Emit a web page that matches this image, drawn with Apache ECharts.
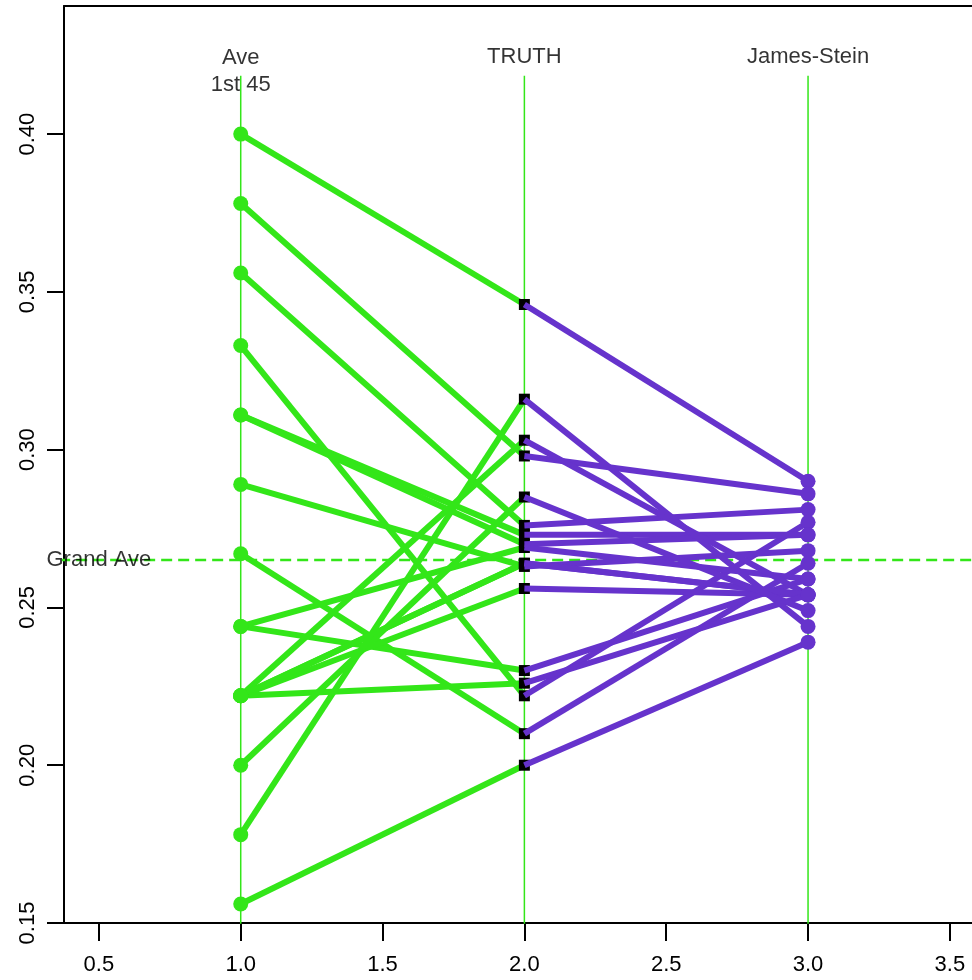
<!DOCTYPE html>
<html>
<head>
<meta charset="utf-8">
<script src="https://cdn.jsdelivr.net/npm/echarts@6/dist/echarts.min.js"></script>
<style>html,body{margin:0;padding:0;background:#fff;overflow:hidden}#c{width:972px;height:980px}</style>
</head>
<body>
<div id="c"></div>
<script>
// Efron-Morris batting averages
var first45 = [0.400,0.378,0.356,0.333,0.311,0.311,0.289,0.267,0.244,0.244,0.222,0.222,0.222,0.222,0.222,0.200,0.178,0.156];
var truth   = [0.346,0.298,0.276,0.222,0.273,0.270,0.263,0.210,0.269,0.230,0.264,0.256,0.303,0.264,0.226,0.285,0.316,0.200];
var jamesStein = [0.290,0.286,0.281,0.277,0.273,0.273,0.268,0.264,0.259,0.259,0.254,0.254,0.254,0.254,0.254,0.249,0.244,0.239];
var grandAve = 0.265;
var columnX = [1, 2, 3];
var columnLabels = ['Ave\n1st 45', 'TRUTH', 'James-Stein'];
var xTicks = [0.5, 1.0, 1.5, 2.0, 2.5, 3.0, 3.5];
var yTicks = [0.15, 0.20, 0.25, 0.30, 0.35, 0.40];

var GREEN = '#33e619';
var PURPLE = '#6633cc';
var FONT = 'Liberation Sans, Arial, sans-serif';

var series = [];
// vertical guide lines
columnX.forEach(function (x) {
  series.push({type:'line', data:[[x,0.14],[x,0.4185]], symbol:'none', silent:true,
    lineStyle:{color:GREEN, width:1.5}, z:1});
});
// grand average dashed line
series.push({type:'line', data:[[0.3,grandAve],[3.7,grandAve]], symbol:'none', silent:true,
  lineStyle:{color:GREEN, width:2.5, type:[11,6]}, z:1});
// green segments
for (var i = 0; i < first45.length; i++) {
  series.push({type:'line', data:[[1,first45[i]],[2,truth[i]]], symbol:'none',
    lineStyle:{color:GREEN, width:6}, z:2});
}
series.push({type:'scatter', data:first45.map(function(v){return [1,v];}), symbol:'circle', symbolSize:15,
  itemStyle:{color:GREEN, opacity:1}, z:3});
series.push({type:'scatter', data:truth.map(function(v){return [2,v];}), symbol:'rect', symbolSize:11,
  itemStyle:{color:'#000', opacity:1}, z:4});
for (var j = 0; j < truth.length; j++) {
  series.push({type:'line', data:[[2,truth[j]],[3,jamesStein[j]]], symbol:'none',
    lineStyle:{color:PURPLE, width:6}, z:5});
}
series.push({type:'scatter', data:jamesStein.map(function(v){return [3,v];}), symbol:'circle', symbolSize:15,
  itemStyle:{color:PURPLE, opacity:1}, z:6});
// column titles
series.push({type:'scatter', symbol:'circle', symbolSize:1, silent:true, z:7,
  itemStyle:{color:'rgba(0,0,0,0)'},
  data:[[columnX[0],0.42,columnLabels[0]],[columnX[1],0.4244,columnLabels[1]],[columnX[2],0.4244,columnLabels[2]]],
  label:{show:true, position:'inside', formatter:function(p){return p.data[2];},
    fontSize:22, lineHeight:27, color:'#000', fontFamily:FONT}});
series.push({type:'scatter', symbol:'circle', symbolSize:1, silent:true, z:7,
  itemStyle:{color:'rgba(0,0,0,0)'},
  data:[[0.5,grandAve,'Grand Ave']],
  label:{show:true, position:'inside', formatter:function(p){return p.data[2];},
    fontSize:22, color:'#000', fontFamily:FONT}});

var chart = echarts.init(document.getElementById('c'), null, {renderer:'canvas'});
chart.setOption({
  animation:false,
  grid:{left:64, top:6, right:0, bottom:57, show:false},
  xAxis:[{type:'value', min:0.377, max:3.578, position:'bottom',
    axisLine:{show:true, onZero:false, lineStyle:{color:'#000', width:2}},
    axisTick:{show:true, length:18, customValues:xTicks, lineStyle:{color:'#000', width:2}},
    axisLabel:{customValues:xTicks, formatter:function(v){return v.toFixed(1);}, fontSize:22, color:'#000', fontFamily:FONT, margin:31},
    splitLine:{show:false}},
    {type:'value', min:0.377, max:3.578, position:'top',
    axisLine:{show:true, onZero:false, lineStyle:{color:'#000', width:2}},
    axisTick:{show:false}, axisLabel:{show:false}, splitLine:{show:false}}],
  yAxis:{type:'value', min:0.15, max:0.4406,
    axisLine:{show:true, onZero:false, lineStyle:{color:'#000', width:2}},
    axisTick:{show:true, length:17, customValues:yTicks, lineStyle:{color:'#000', width:2}},
    axisLabel:{customValues:yTicks, rotate:90, formatter:function(v){return v.toFixed(2);}, fontSize:22, color:'#000', fontFamily:FONT, margin:25},
    splitLine:{show:false}},
  series:series
});
</script>
</body>
</html>
